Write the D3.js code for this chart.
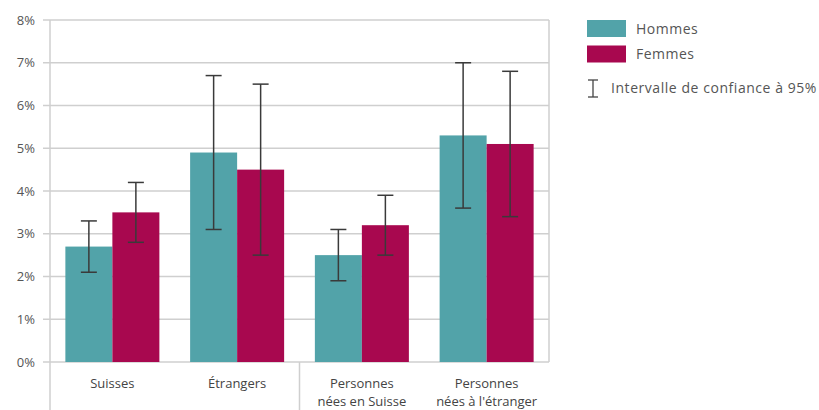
<!DOCTYPE html>
<html><head><meta charset="utf-8">
<script src="https://cdn.jsdelivr.net/npm/d3@7"></script>
<style>body{margin:0;background:#fff;} svg{display:block;font-family:"Open Sans",sans-serif;}</style>
</head><body>
<svg id="c" width="819" height="410"></svg>
<script>
const categories = [["Suisses"],["Étrangers"],["Personnes","nées en Suisse"],["Personnes","nées à l'étranger"]];
const seriesNames = ["Hommes","Femmes"];
const hommes = [2.7, 4.9, 2.5, 5.3];
const femmes = [3.5, 4.5, 3.2, 5.1];
const hommesLow = [2.1, 3.1, 1.9, 3.6];
const hommesHigh = [3.3, 6.7, 3.1, 7.0];
const femmesLow = [2.8, 2.5, 2.5, 3.4];
const femmesHigh = [4.2, 6.5, 3.9, 6.8];
const yTicks = [0,1,2,3,4,5,6,7,8];
const ciLabel = "Intervalle de confiance à 95%";

const colors = ["#52a3a9", "#a8084f"];
const svg = d3.select("#c");
const L = 50, R = 549, T = 20, B = 362;
const keys = categories.map((d,i)=>i);
const x0 = d3.scaleBand().domain(keys).range([L,R]).padding(0);
const x1 = d3.scaleBand().domain([0,1]).range([0,x0.bandwidth()]).paddingInner(0).paddingOuter(0.327);
const y = d3.scaleLinear().domain([0,8]).range([B,T]);

const gridC = "#cfcfcf";
svg.append("g").selectAll("line").data(yTicks).join("line")
  .attr("x1",43).attr("x2",R).attr("y1",d=>y(d)).attr("y2",d=>y(d))
  .attr("stroke",gridC).attr("stroke-width",1.5);
svg.append("line").attr("x1",L).attr("x2",L).attr("y1",T).attr("y2",410).attr("stroke",gridC).attr("stroke-width",1.5);
svg.append("line").attr("x1",R).attr("x2",R).attr("y1",T).attr("y2",B).attr("stroke",gridC).attr("stroke-width",1.5);
svg.append("line").attr("x1",x0(2)).attr("x2",x0(2)).attr("y1",B).attr("y2",410).attr("stroke",gridC).attr("stroke-width",1.5);

svg.append("g").selectAll("text").data(yTicks).join("text")
  .attr("x",35).attr("y",d=>y(d)+4.5).attr("text-anchor","end")
  .attr("font-size",13).attr("fill","#555").text(d=>d+"%");

const series = [
  {vals:hommes, lo:hommesLow, hi:hommesHigh},
  {vals:femmes, lo:femmesLow, hi:femmesHigh}
];
series.forEach((s,si)=>{
  svg.append("g").selectAll("rect").data(keys).join("rect")
    .attr("x",i=>x0(i)+x1(si)).attr("width",x1.bandwidth())
    .attr("y",i=>y(s.vals[i])).attr("height",i=>y(0)-y(s.vals[i]))
    .attr("fill",colors[si]);
});
series.forEach((s,si)=>{
  const g = svg.append("g").attr("stroke","#3a3a3a").attr("stroke-width",1.5);
  keys.forEach(i=>{
    const cx = x0(i)+x1(si)+x1.bandwidth()/2;
    g.append("line").attr("x1",cx).attr("x2",cx).attr("y1",y(s.lo[i])).attr("y2",y(s.hi[i]));
    g.append("line").attr("x1",cx-8).attr("x2",cx+8).attr("y1",y(s.lo[i])).attr("y2",y(s.lo[i]));
    g.append("line").attr("x1",cx-8).attr("x2",cx+8).attr("y1",y(s.hi[i])).attr("y2",y(s.hi[i]));
  });
});
keys.forEach(i=>{
  const t = svg.append("text").attr("x",x0(i)+x0.bandwidth()/2).attr("y",388)
    .attr("text-anchor","middle").attr("font-size",13).attr("fill","#444");
  categories[i].forEach((ln,j)=>{
    t.append("tspan").attr("x",x0(i)+x0.bandwidth()/2).attr("dy",j===0?0:18).text(ln);
  });
});
seriesNames.forEach((n,i)=>{
  svg.append("rect").attr("x",587).attr("y",20+i*25.5).attr("width",39).attr("height",17).attr("fill",colors[i]);
  svg.append("text").attr("x",636).attr("y",34+i*25).attr("font-size",14).attr("letter-spacing",0.5).attr("fill","#555").text(n);
});
const lg = svg.append("g").attr("stroke","#444").attr("stroke-width",1.3);
lg.append("line").attr("x1",593).attr("x2",593).attr("y1",80).attr("y2",97);
lg.append("line").attr("x1",588).attr("x2",598).attr("y1",80).attr("y2",80);
lg.append("line").attr("x1",588).attr("x2",598).attr("y1",97).attr("y2",97);
svg.append("text").attr("x",611).attr("y",93).attr("font-size",14).attr("letter-spacing",0.55).attr("fill","#555").text(ciLabel);
</script>
</body></html>
